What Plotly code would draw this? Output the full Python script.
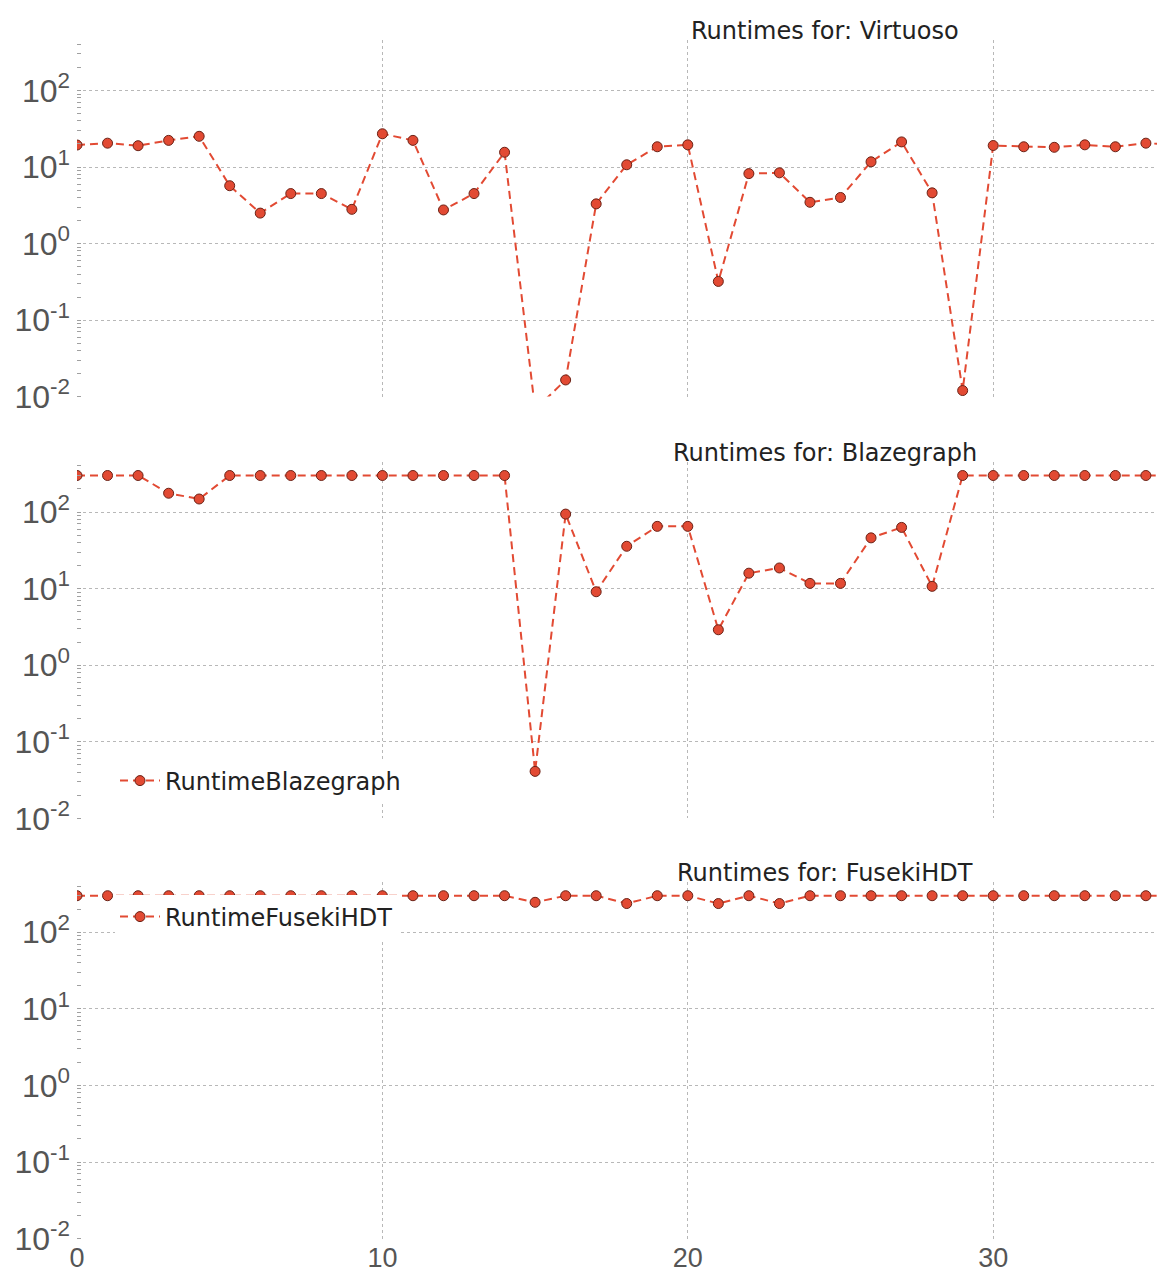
import plotly.graph_objects as go
from plotly.subplots import make_subplots

# ---- data ----
queries = list(range(37))

virtuoso = [19.4, 20.5, 19.0, 22.3, 25.2, 5.7, 2.5, 4.5, 4.5, 2.8,
            27.2, 22.3, 2.75, 4.5, 15.6, 0.0068, 0.0165, 3.3, 10.7, 18.4,
            19.5, 0.32, 8.2, 8.4, 3.46, 4.0, 11.7, 21.3, 4.6, 0.012,
            19.1, 18.4, 18.1, 19.5, 18.4, 20.5, 19.5]

blazegraph = [300, 300, 300, 176, 148, 300, 300, 300, 300, 300,
              300, 300, 300, 300, 300, 0.041, 94, 9.1, 35.7, 65,
              65, 2.9, 15.9, 18.6, 11.7, 11.7, 46, 63, 10.7, 300,
              300, 300, 300, 300, 300, 300, 300]

fuseki = [300, 300, 300, 300, 300, 300, 300, 300, 300, 300,
          300, 300, 300, 300, 300, 246, 300, 300, 237, 300,
          300, 237, 300, 237, 300, 300, 300, 300, 300, 300,
          300, 300, 300, 300, 300, 300, 300]

series_names = ["RuntimeVirtuoso", "RuntimeBlazegraph", "RuntimeFusekiHDT"]
titles = ["Runtimes for: Virtuoso", "Runtimes for: Blazegraph", "Runtimes for: FusekiHDT"]

y_tickvals = [0.01, 0.1, 1, 10, 100]
y_ticktext = ["10<sup>-2</sup>", "10<sup>-1</sup>", "10<sup>0</sup>", "10<sup>1</sup>", "10<sup>2</sup>"]
x_tickvals = [0, 10, 20, 30]

# ---- styling ----
RED = "#E24A33"
EDGE = "#6b2216"
GRID = "#b8b8b8"
TICKC = "#555555"
OFF = 8  # page body margin
W, H = 1165 - OFF, 1287 - OFF
ML, MR, MT, MB = 77 - OFF, 0, 40 - OFF, 48
plot_h = H - MT - MB
plot_w = W - ML - MR

def py(pix):
    return (H - MB - (pix - OFF)) / plot_h

def px(pix):
    return (pix - OFF - ML) / plot_w

domains = [
    [py(396.6), py(40)],
    [py(818.3), py(461.5)],
    [py(1238.6), py(881.7)],
]

fig = make_subplots(rows=3, cols=1)

all_series = [virtuoso, blazegraph, fuseki]
legends = [None, "legend2", "legend3"]
for i, (vals, name) in enumerate(zip(all_series, series_names)):
    tr = go.Scatter(
        x=queries, y=vals, name=name, mode="lines+markers",
        line=dict(color=RED, width=2, dash="8px,5px"),
        marker=dict(size=10, color=RED, line=dict(color=EDGE, width=1)),
        showlegend=(i > 0),
        cliponaxis=True,
    )
    if legends[i]:
        tr.legend = legends[i]
    fig.add_trace(tr, row=i + 1, col=1)

x_range = [0, plot_w / 30.54]
for i in range(3):
    r = i + 1
    fig.update_xaxes(
        row=r, col=1, range=x_range, tickvals=x_tickvals, automargin=False,
        showticklabels=(i == 2), showgrid=True, gridcolor=GRID, griddash="dot",
        gridwidth=1, zeroline=False, showline=False, ticks="",
        tickfont=dict(family="Liberation Sans", size=27, color=TICKC),
        ticklabelstandoff=0,
    )
    fig.update_yaxes(
        row=r, col=1, type="log", range=[-2, 2.66], domain=domains[i],
        automargin=False,
        tickmode="array", tickvals=y_tickvals, ticktext=y_ticktext,
        showgrid=True, gridcolor=GRID, griddash="dot", gridwidth=1,
        zeroline=False, showline=False, ticks="",
        tickfont=dict(family="Liberation Sans", size=32, color=TICKC),
        ticklabelstandoff=6,
        minor=dict(ticks="inside", ticklen=4, tickcolor="#a0a0a0", tickwidth=1,
                   dtick="D1", showgrid=False),
    )

annotations = []
for i, t in enumerate(titles):
    annotations.append(dict(
        text=t, xref="paper", yref="paper", x=px(825),
        y=domains[i][1], xanchor="center", yanchor="bottom", yshift=-7,
        showarrow=False, font=dict(family="DejaVu Sans", size=24, color="#222222"),
    ))

legend_common = dict(
    xanchor="left", yanchor="middle", bgcolor="white", borderwidth=0,
    font=dict(family="DejaVu Sans", size=24, color="#222222"),
    itemwidth=40, tracegroupgap=0,
)

fig.update_layout(
    width=W, height=H,
    margin=dict(l=ML, r=MR, t=MT, b=MB, autoexpand=False),
    paper_bgcolor="white", plot_bgcolor="white",
    annotations=annotations,
    showlegend=True,
    legend=dict(visible=False),
    legend2=dict(x=px(115), y=py(781), **legend_common),
    legend3=dict(x=px(115), y=py(917), **legend_common),
)

fig.write_html("out.html")
